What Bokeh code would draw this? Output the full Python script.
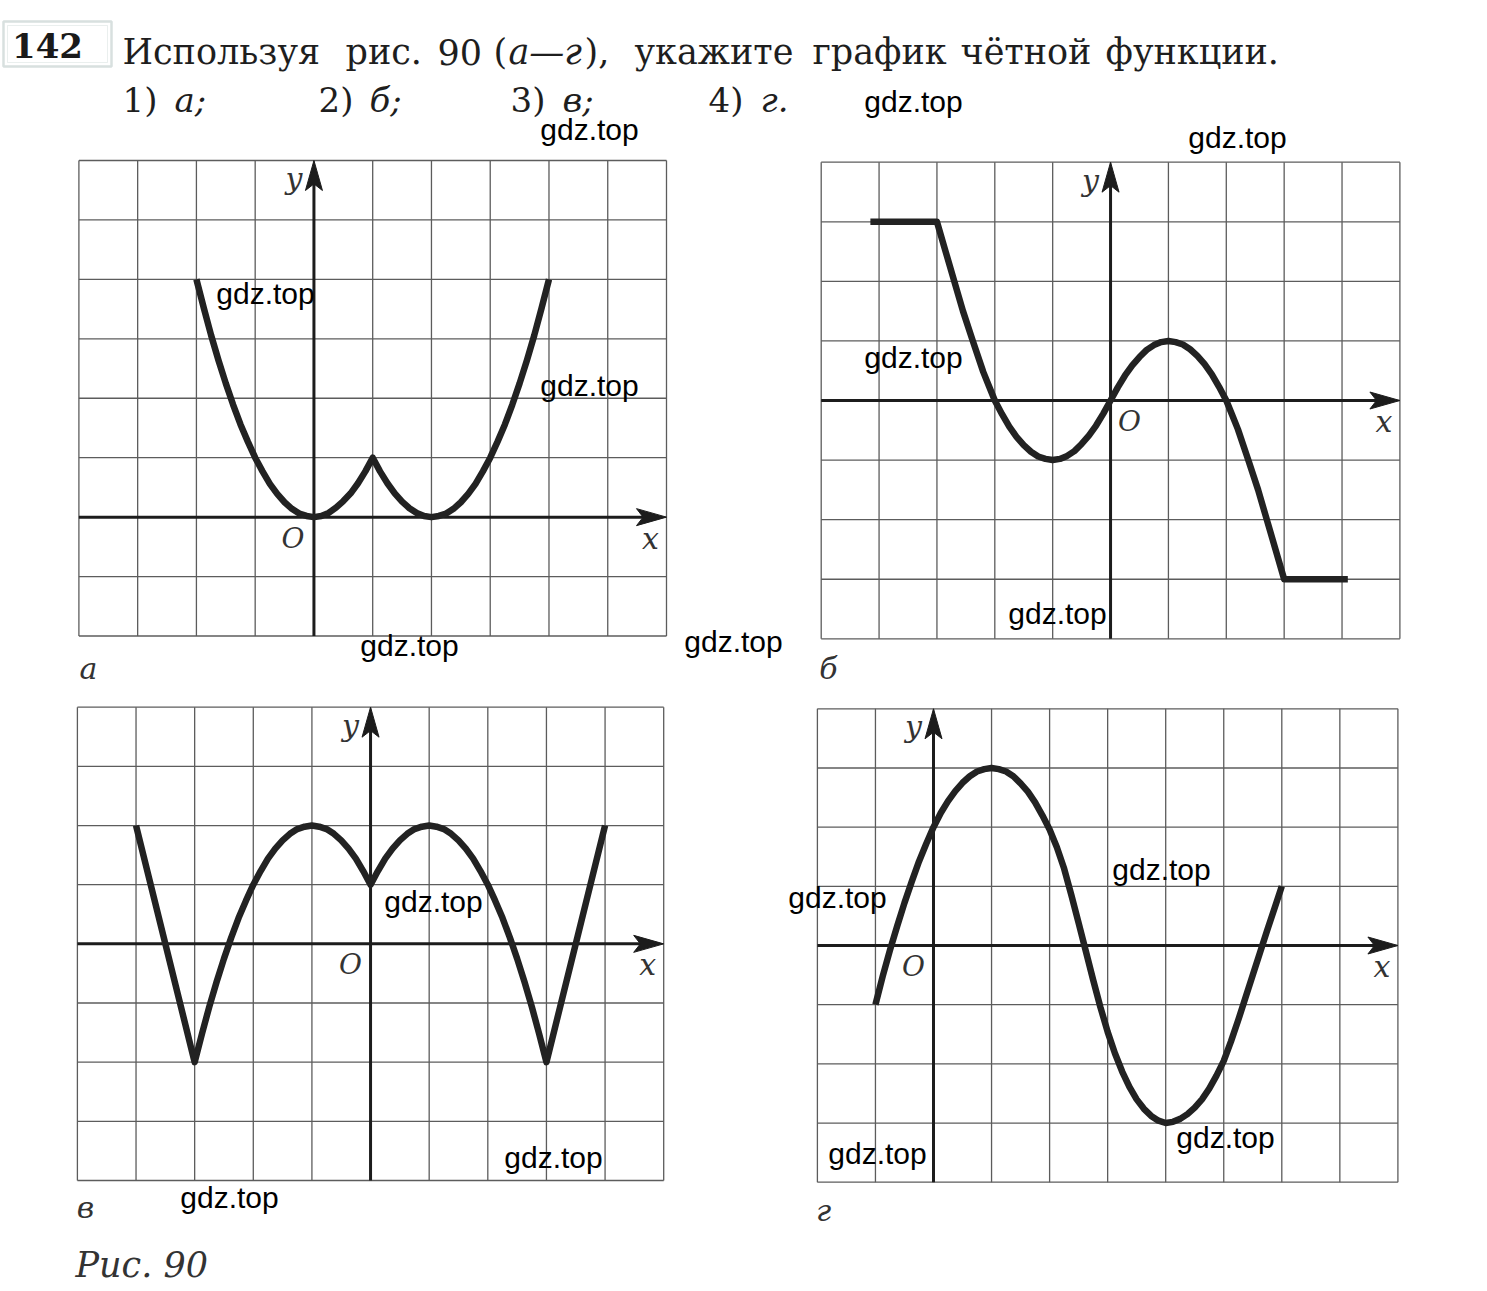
from bokeh.plotting import figure
from bokeh.models import Range1d, Label, BoxAnnotation
from bokeh.core.properties import value
from bokeh.embed import file_html
from bokeh.resources import INLINE

W, H = 1487, 1291

# ---------------- data ----------------
# graph "а"
A_X = [-2, -1.875, -1.75, -1.625, -1.5, -1.375, -1.25, -1.125, -1, -0.875, -0.75,
       -0.625, -0.5, -0.375, -0.25, -0.125, 0, 0.125, 0.25, 0.375, 0.5, 0.625, 0.75,
       0.875, 1, 1.125, 1.25, 1.375, 1.5, 1.625, 1.75, 1.875, 2, 2.125, 2.25, 2.375,
       2.5, 2.625, 2.75, 2.875, 3, 3.125, 3.25, 3.375, 3.5, 3.625, 3.75, 3.875, 4]
A_Y = [4, 3.52, 3.06, 2.64, 2.25, 1.89, 1.56, 1.27, 1, 0.77, 0.56,
       0.39, 0.25, 0.14, 0.06, 0.02, 0, 0.02, 0.07, 0.16, 0.27, 0.4, 0.57,
       0.77, 1, 0.77, 0.57, 0.4, 0.26, 0.15, 0.07, 0.02, 0, 0.02, 0.06, 0.14,
       0.25, 0.39, 0.56, 0.77, 1, 1.27, 1.56, 1.89, 2.25, 2.64, 3.06, 3.52, 4]
# graph "б"
B_X = [-4.15, -3, -2.85, -2.7, -2.55, -2.38, -2.2, -2.1, -2, -1.875, -1.75, -1.625,
       -1.5, -1.375, -1.25, -1.125, -1, -0.875, -0.75, -0.625, -0.5, -0.375, -0.25,
       -0.125, 0, 0.125, 0.25, 0.375, 0.5, 0.625, 0.75, 0.875, 1, 1.125, 1.25, 1.375,
       1.5, 1.625, 1.75, 1.875, 2, 2.1, 2.2, 2.38, 2.55, 2.7, 2.85, 3, 4.1]
B_Y = [3, 3, 2.5, 2, 1.5, 1, 0.48, 0.24, 0, -0.23, -0.44, -0.61,
       -0.75, -0.86, -0.94, -0.98, -1, -0.98, -0.93, -0.85, -0.73, -0.59, -0.42,
       -0.22, 0, 0.22, 0.42, 0.59, 0.73, 0.85, 0.93, 0.98, 1, 0.98, 0.94, 0.86,
       0.75, 0.61, 0.44, 0.23, 0, -0.24, -0.48, -1, -1.5, -2, -2.5, -3, -3]
# graph "в"
V_X = [-4, -3, -2.875, -2.75, -2.625, -2.5, -2.375, -2.25, -2.125, -2, -1.875, -1.75,
       -1.625, -1.5, -1.375, -1.25, -1.125, -1, -0.875, -0.75, -0.625, -0.5, -0.375,
       -0.25, -0.125, 0, 0.125, 0.25, 0.375, 0.5, 0.625, 0.75, 0.875, 1, 1.125, 1.25,
       1.375, 1.5, 1.625, 1.75, 1.875, 2, 2.125, 2.25, 2.375, 2.5, 2.625, 2.75, 2.875,
       3, 4]
V_Y = [2, -2, -1.52, -1.06, -0.64, -0.25, 0.11, 0.44, 0.73, 1, 1.23, 1.44,
       1.61, 1.75, 1.86, 1.94, 1.98, 2, 1.98, 1.94, 1.86, 1.75, 1.61,
       1.44, 1.23, 1, 1.23, 1.44, 1.61, 1.75, 1.86, 1.94, 1.98, 2, 1.98, 1.94,
       1.86, 1.75, 1.61, 1.44, 1.23, 1, 0.73, 0.44, 0.11, -0.25, -0.64, -1.06, -1.52,
       -2, 2]
# graph "г"
G_X = [-1, -0.875, -0.75, -0.625, -0.5, -0.375, -0.25, -0.125, 0, 0.125, 0.25, 0.375,
       0.5, 0.625, 0.75, 0.875, 1, 1.125, 1.25, 1.375, 1.5, 1.625, 1.75, 1.875, 2,
       2.125, 2.25, 2.375, 2.5, 2.625, 2.75, 2.875, 3, 3.125, 3.25, 3.375, 3.5, 3.625,
       3.75, 3.875, 4, 4.125, 4.25, 4.375, 4.5, 4.625, 4.75, 4.875, 5, 5.125, 5.25,
       5.375, 5.5, 5.625, 5.75, 5.875, 6]
G_Y = [-1, -0.52, -0.08, 0.33, 0.72, 1.08, 1.42, 1.72, 2, 2.24, 2.44, 2.61,
       2.75, 2.86, 2.94, 2.98, 3, 2.98, 2.94, 2.86, 2.74, 2.6, 2.42, 2.2, 1.96,
       1.66, 1.3, 0.85, 0.38, -0.1, -0.58, -1.04, -1.46, -1.82, -2.13, -2.39, -2.6, -2.76,
       -2.88, -2.96, -3, -2.98, -2.93, -2.85, -2.74, -2.6, -2.42, -2.2, -1.95, -1.62, -1.26,
       -0.88, -0.5, -0.12, 0.26, 0.63, 1]

PANEL_LETTERS = ["а", "б", "в", "г"]
HEADER_WORDS = ["Используя", "рис.", "90", "(", "а—г", "),", "укажите", "график",
                "чётной", "функции."]
ANSWERS = [("1)", "а;"), ("2)", "б;"), ("3)", "в;"), ("4)", "г.")]
WATERMARK = "gdz.top"

# ---------------- layout (pixel placement) ----------------
PANELS = [
    dict(name="pa", xr=(-4, 6), yr=(-2, 6), px=(78.4, 666.0), py=(160.0, 635.5),
         x=A_X, y=A_Y, o_dx=-21, letter=(88, 668)),
    dict(name="pb", xr=(-5, 5), yr=(-4, 4), px=(820.7, 1399.4), py=(161.7, 638.3),
         x=B_X, y=B_Y, o_dx=19, letter=(828, 668)),
    dict(name="pv", xr=(-5, 5), yr=(-4, 4), px=(76.9, 663.2), py=(706.7, 1180.0),
         x=V_X, y=V_Y, o_dx=-20, letter=(85, 1207)),
    dict(name="pg", xr=(-2, 8), yr=(-4, 4), px=(816.9, 1397.4), py=(708.3, 1181.7),
         x=G_X, y=G_Y, o_dx=-20, letter=(823, 1210)),
]

GRID_COLOR = "#5c5c5c"
AXIS_COLOR = "#1c1c1c"
CURVE_COLOR = "#222222"
SERIF = "DejaVu Serif"

p = figure(width=W, height=H, x_range=Range1d(0, W), y_range=Range1d(H, 0),
           output_backend="svg", toolbar_location=None, min_border=0,
           x_axis_type=None, y_axis_type=None,
           background_fill_color="white", border_fill_color="white",
           outline_line_color=None)

for pn in PANELS:
    nm = pn["name"]
    xmin, xmax = pn["xr"]
    ymin, ymax = pn["yr"]
    px0, px1 = pn["px"]
    py0, py1 = pn["py"]
    sx = (px1 - px0) / (xmax - xmin)
    sy = (py1 - py0) / (ymax - ymin)
    p.extra_x_ranges[nm] = Range1d(xmin - px0 / sx, xmin + (W - px0) / sx)
    p.extra_y_ranges[nm] = Range1d(ymax - (H - py0) / sy, ymax + py0 / sy)
    kw = dict(x_range_name=nm, y_range_name=nm)

    xs = list(range(xmin, xmax + 1))
    ys = list(range(ymin, ymax + 1))
    p.segment(x0=xs, y0=[ymin] * len(xs), x1=xs, y1=[ymax] * len(xs),
              line_color=GRID_COLOR, line_width=1.3, **kw)
    p.segment(x0=[xmin] * len(ys), y0=ys, x1=[xmax] * len(ys), y1=ys,
              line_color=GRID_COLOR, line_width=1.3, **kw)

    # axes with arrow heads
    Lx, hy = 30 / sx, 8.5 / sy
    Ly, hx = 30 / sy, 8.5 / sx
    p.segment(x0=[xmin, 0], y0=[0, ymin], x1=[xmax - 0.5 * Lx, 0], y1=[0, ymax - 0.5 * Ly],
              line_color=AXIS_COLOR, line_width=3, **kw)
    p.patches(xs=[[xmax, xmax - Lx, xmax - 0.78 * Lx, xmax - Lx],
                  [0, -hx, 0, hx]],
              ys=[[0, hy, 0, -hy],
                  [ymax, ymax - Ly, ymax - 0.78 * Ly, ymax - Ly]],
              fill_color=AXIS_COLOR, line_color=AXIS_COLOR, line_width=1, **kw)

    # curve
    p.line(pn["x"], pn["y"], line_color=CURVE_COLOR, line_width=6.5,
           line_join="round", line_cap="butt", **kw)

    # axis labels
    p.text(x=[-20 / sx], y=[ymax - 18 / sy], text=["y"], text_font=value(SERIF),
           text_font_style="italic", text_font_size="30px", text_color="#333333",
           text_align="center", text_baseline="middle", **kw)
    p.text(x=[xmax - 16 / sx], y=[-21 / sy], text=["x"], text_font=value(SERIF),
           text_font_style="italic", text_font_size="30px", text_color="#333333",
           text_align="center", text_baseline="middle", **kw)
    p.text(x=[pn["o_dx"] / sx], y=[-21 / sy], text=["O"], text_font=value(SERIF),
           text_font_style="italic", text_font_size="28px", text_color="#333333",
           text_align="center", text_baseline="middle", **kw)

for pn, letter in zip(PANELS, PANEL_LETTERS):
    lx, ly = pn["letter"]
    p.add_layout(Label(x=lx, y=ly, text=letter, text_font=SERIF, text_font_style="italic",
                       text_font_size="30px", text_color="#333333",
                       text_align="center", text_baseline="middle"))

# header
p.add_layout(BoxAnnotation(left=3, right=111, top=21, bottom=66, fill_color="white",
                           fill_alpha=1, line_color="#7e9995", line_width=2.5))
p.add_layout(BoxAnnotation(left=7, right=107, top=25, bottom=62, fill_alpha=0,
                           line_color="#b9c9c6", line_width=1))
p.add_layout(Label(x=47, y=45, text="142", text_font=SERIF, text_font_style="bold",
                   text_font_size="34px", text_color="#1a1a1a",
                   text_align="center", text_baseline="middle"))

HEADER_X = [122, 345, 437, 493, 508, 584, 634, 812, 960, 1105]
for wtxt, wx in zip(HEADER_WORDS, HEADER_X):
    style = "italic" if wtxt == "а—г" else "normal"
    p.add_layout(Label(x=wx, y=51, text=wtxt, text_font=SERIF, text_font_style=style,
                       text_font_size="35px", text_color="#1e1e1e",
                       text_align="left", text_baseline="alphabetic"))

ANS_X = [(122, 174), (318, 369), (510, 562), (708, 760)]
for (num, let), (nx, lx) in zip(ANSWERS, ANS_X):
    p.add_layout(Label(x=nx, y=99, text=num, text_font=SERIF, text_font_size="34px",
                       text_color="#1e1e1e", text_align="left", text_baseline="alphabetic"))
    p.add_layout(Label(x=lx, y=99, text=let, text_font=SERIF, text_font_style="italic",
                       text_font_size="34px", text_color="#1e1e1e",
                       text_align="left", text_baseline="alphabetic"))

p.add_layout(Label(x=75, y=1264, text="Рис. 90", text_font=SERIF, text_font_style="italic",
                   text_font_size="35px", text_color="#333333",
                   text_align="left", text_baseline="alphabetic"))

# watermarks
WM_POS = [(589, 129), (913, 101), (1237, 137), (265, 293), (589, 385), (913, 357),
          (409, 645), (733, 641), (1057, 613), (433, 901), (837, 897), (1161, 869),
          (553, 1157), (229, 1197), (877, 1153), (1225, 1137)]
for wx, wy in WM_POS:
    p.add_layout(Label(x=wx, y=wy, text=WATERMARK, text_font="Liberation Sans",
                       text_font_size="30px", text_color="black",
                       text_align="center", text_baseline="middle"))

open("out.html", "w").write(file_html(p, INLINE))
